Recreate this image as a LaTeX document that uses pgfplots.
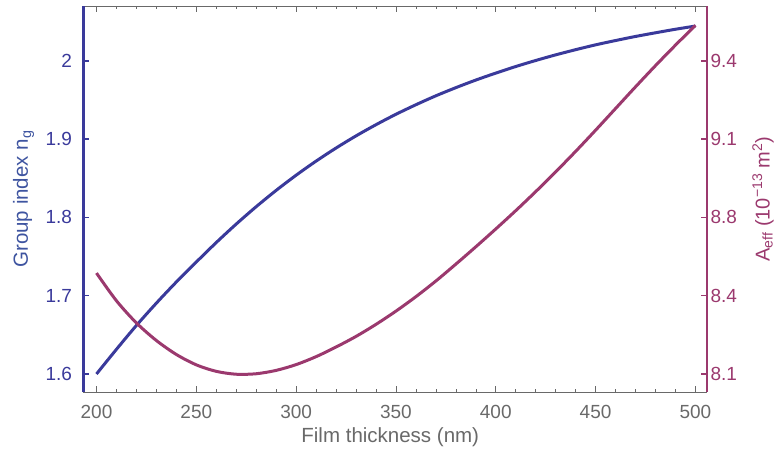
\documentclass[border=0pt]{standalone}
\usepackage{pgfplots}
\pgfplotsset{compat=1.18}
\usepackage{fontspec}
\setmainfont{Liberation Sans}
\definecolor{ngblue}{RGB}{58,58,155}
\definecolor{aeff}{RGB}{155,57,110}
\definecolor{axgray}{RGB}{105,105,105}
\definecolor{lblblue}{RGB}{62,84,160}

\pgfplotstableread{
t ng
200 1.6000
210 1.6315
220 1.6620
230 1.6905
240 1.7175
250 1.7430
260 1.7679
270 1.7915
280 1.8137
290 1.8345
300 1.8539
310 1.8719
320 1.8886
330 1.9041
340 1.9184
350 1.9317
360 1.9439
370 1.9553
380 1.9657
390 1.9754
400 1.9843
410 1.9927
420 2.0004
430 2.0076
440 2.0142
450 2.0204
460 2.0259
470 2.0311
480 2.0358
490 2.0403
500 2.0444
}\ngdata

\pgfplotstableread{
t A
200 8.519
210 8.404
220 8.312
230 8.239
240 8.181
250 8.138
260 8.111
270 8.099
280 8.101
290 8.115
300 8.139
310 8.172
320 8.212
330 8.256
340 8.306
350 8.361
360 8.421
370 8.486
380 8.556
390 8.628
400 8.702
410 8.778
420 8.857
430 8.939
440 9.024
450 9.112
460 9.202
470 9.292
480 9.380
490 9.465
500 9.547
}\aeffdata

\begin{document}
\begin{tikzpicture}
\useasboundingbox (-83.5pt,-56pt) rectangle (693.5pt,392pt);
\begin{axis}[
  scale only axis, width=623.5pt, height=386pt,
  xmin=193.5, xmax=505.8, ymin=1.577, ymax=2.070,
  axis y line*=left,
  xtick={200,250,300,350,400,450,500},
  xticklabels={200,250,300,350,400,450,500},
  minor x tick num=4,
  ytick={1.6,1.7,1.8,1.9,2.0}, yticklabels={1.6,1.7,1.8,1.9,2},
  tick align=inside,
  major tick length=6pt, minor tick length=3pt,
  x axis line style={axgray, line width=0.7pt},
  y axis line style={ngblue, line width=2.8pt},
  xtick style={axgray, line width=0.6pt},
  ytick style={ngblue, line width=1.6pt},
  xticklabel style={axgray, font=\fontsize{19}{19}\selectfont, yshift=-10pt},
  yticklabel style={ngblue, font=\fontsize{19}{19}\selectfont, xshift=-8pt},
  xlabel={Film thickness (nm)},
  xlabel style={axgray, font=\fontsize{20.5}{24}\selectfont, at={(axis description cs:0.492,-0.1166)}, anchor=center},
  ylabel={Group index n\textsubscript{g}},
  ylabel style={lblblue, font=\fontsize{20.5}{24}\selectfont, at={(axis description cs:-0.0962,0.5)}, anchor=center},
]
\addplot[ngblue, line width=3pt, smooth] table[x=t, y=ng] {\ngdata};
\end{axis}
\begin{axis}[
  scale only axis, width=623.5pt, height=386pt,
  xmin=193.5, xmax=505.8, ymin=8.02525, ymax=9.6275,
  axis y line*=right, axis x line=none,
  ytick={8.1,8.425,8.75,9.075,9.4}, yticklabels={8.1,8.4,8.8,9.1,9.4},
  tick align=inside,
  major tick length=6pt,
  y axis line style={aeff, line width=2.8pt},
  ytick style={aeff, line width=1.6pt},
  yticklabel style={aeff, font=\fontsize{19}{19}\selectfont},
  ylabel={A\textsubscript{eff} (10\textsuperscript{−13} m\textsuperscript{2})},
  ylabel style={aeff, font=\fontsize{20}{24}\selectfont, at={(axis description cs:1.0898,0.5)}, anchor=center},
]
\addplot[aeff, line width=3pt, smooth] table[x=t, y=A] {\aeffdata};
\end{axis}
\end{tikzpicture}
\end{document}
